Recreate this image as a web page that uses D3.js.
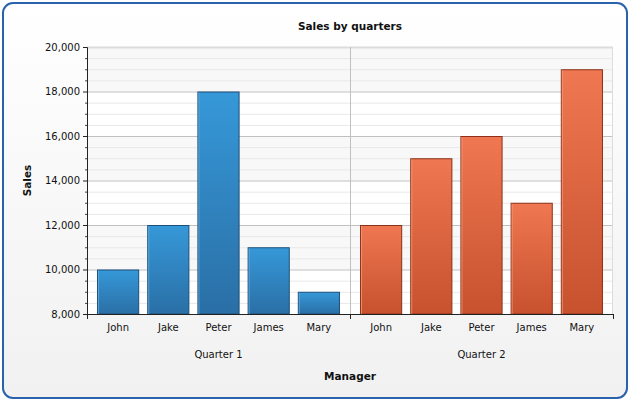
<!DOCTYPE html>
<html lang="en">
<head>
<meta charset="UTF-8">
<title>Sales by quarters</title>
<style>
    body { margin: 0; background: #fff; }
    svg text { font-family: "DejaVu Sans", Verdana, sans-serif; fill: #111; }
</style>
</head>
<body>
<div id="chart"></div>
<script src="https://d3js.org/d3.v7.min.js"></script>
<script>
    const quarters = ["Quarter 1", "Quarter 2"];
    const managers = ["John", "Jake", "Peter", "James", "Mary"];
    const q1Sales = [10000, 12000, 18000, 11000, 9000];
    const q2Sales = [12000, 15000, 16000, 13000, 19000];
    const yTicks = [8000, 10000, 12000, 14000, 16000, 18000, 20000];

    const salesByQuarter = [q1Sales, q2Sales];

    const W = 630, H = 401;
    const margin = {top: 47, right: 17, bottom: 87, left: 87};
    const width = W - margin.left - margin.right,
        height = H - margin.top - margin.bottom;

    const svg = d3.select("#chart").append("svg")
        .attr("width", W)
        .attr("height", H);

    const defs = svg.append("defs");
    const bgGrad = defs.append("linearGradient").attr("id", "bg")
        .attr("x1", 0).attr("y1", 0).attr("x2", 0).attr("y2", 1);
    bgGrad.append("stop").attr("offset", "0%").attr("stop-color", "#ffffff");
    bgGrad.append("stop").attr("offset", "100%").attr("stop-color", "#f1f1f1");

    function barGradient(id, top, bottom) {
        const g = defs.append("linearGradient").attr("id", id)
            .attr("x1", 0).attr("y1", 0).attr("x2", 0).attr("y2", 1);
        g.append("stop").attr("offset", "0%").attr("stop-color", top);
        g.append("stop").attr("offset", "100%").attr("stop-color", bottom);
    }
    barGradient("blueBar", "#3698d8", "#2a6fa6");
    barGradient("orangeBar", "#ef7852", "#c8512e");
    const fills = ["url(#blueBar)", "url(#orangeBar)"];
    const strokes = ["#1c4f78", "#8c3017"];
    const highlights = ["#6fb4e3", "#f5a285"];

    // outer frame
    svg.append("rect")
        .attr("x", 3).attr("y", 3)
        .attr("width", W - 6).attr("height", H - 6)
        .attr("rx", 10).attr("ry", 10)
        .attr("fill", "url(#bg)")
        .attr("stroke", "#2a62ad")
        .attr("stroke-width", 2);

    const g = svg.append("g")
        .attr("transform", "translate(" + margin.left + "," + margin.top + ")");

    const x0 = d3.scaleBand().domain(quarters).range([0, width]);
    const x1 = d3.scaleBand().domain(managers)
        .range([0, x0.bandwidth()])
        .paddingInner(0.16).paddingOuter(0.2);
    const y = d3.scaleLinear().domain([8000, 20000]).range([height, 0]);

    // plot background with alternating bands
    g.append("rect")
        .attr("width", width).attr("height", height)
        .attr("fill", "#ffffff");
    g.selectAll(".band")
        .data(yTicks.slice(0, -1).filter((d, i) => i % 2 === 1))
        .enter().append("rect")
        .attr("class", "band")
        .attr("x", 0)
        .attr("width", width)
        .attr("y", d => y(d + 2000))
        .attr("height", d => y(d) - y(d + 2000))
        .attr("fill", "#f8f8f8");

    // minor grid
    const minor = d3.range(8000, 20001, 500).filter(d => d % 2000 !== 0);
    g.selectAll(".minor")
        .data(minor)
        .enter().append("line")
        .attr("x1", 0).attr("x2", width)
        .attr("y1", d => y(d) + 0.5).attr("y2", d => y(d) + 0.5)
        .attr("stroke", "#e8e8e8");

    // major grid
    g.selectAll(".major")
        .data(yTicks.slice(1))
        .enter().append("line")
        .attr("x1", 0).attr("x2", width)
        .attr("y1", d => y(d) + 0.5).attr("y2", d => y(d) + 0.5)
        .attr("stroke", d => d === 20000 ? "#dcdcdc" : "#c0c0c0")
        .attr("stroke-width", d => d === 20000 ? 2 : 1);

    // vertical separators
    g.append("line")
        .attr("x1", x0("Quarter 2") + 0.5).attr("x2", x0("Quarter 2") + 0.5)
        .attr("y1", 0).attr("y2", height)
        .attr("stroke", "#c0c0c0");
    g.append("line")
        .attr("x1", width - 0.5).attr("x2", width - 0.5)
        .attr("y1", 0).attr("y2", height)
        .attr("stroke", "#dcdcdc");

    // bars
    quarters.forEach((q, qi) => {
        const grp = g.append("g")
            .attr("transform", "translate(" + x0(q) + ",0)");
        const rows = managers.map((m, i) => ({manager: m, value: salesByQuarter[qi][i]}));
        grp.selectAll(".bar")
            .data(rows)
            .enter().append("rect")
            .attr("class", "bar")
            .attr("x", d => x1(d.manager) + 0.5)
            .attr("y", d => y(d.value) + 0.5)
            .attr("width", x1.bandwidth() - 1)
            .attr("height", d => height - y(d.value) - 0.5)
            .attr("fill", fills[qi])
            .attr("stroke", strokes[qi])
            .attr("stroke-width", 1);
        grp.selectAll(".hl")
            .data(rows)
            .enter().append("line")
            .attr("x1", d => x1(d.manager) + 1.5)
            .attr("x2", d => x1(d.manager) + 1.5)
            .attr("y1", d => y(d.value) + 1)
            .attr("y2", height)
            .attr("stroke", highlights[qi])
            .attr("stroke-opacity", 0.7);
        grp.selectAll(".lbl")
            .data(managers)
            .enter().append("text")
            .attr("x", d => x1(d) + x1.bandwidth() / 2)
            .attr("y", height + 17)
            .attr("text-anchor", "middle")
            .style("font-size", "10px")
            .text(d => d);
        grp.append("text")
            .attr("x", x0.bandwidth() / 2)
            .attr("y", height + 44)
            .attr("text-anchor", "middle")
            .style("font-size", "10px")
            .text(q);
    });

    // y axis
    const yAxis = g.append("g")
        .call(d3.axisLeft(y).tickValues(yTicks).tickSize(4).tickPadding(3)
            .tickFormat(d3.format(",")));
    yAxis.select(".domain").attr("stroke", "#222");
    yAxis.selectAll(".tick line").attr("stroke", "#222");
    yAxis.selectAll("text").style("font-size", "10px")
        .style("font-family", "DejaVu Sans, sans-serif").attr("fill", "#111");
    g.selectAll(".ytickminor")
        .data(minor)
        .enter().append("line")
        .attr("x1", -2).attr("x2", 0)
        .attr("y1", d => y(d) + 0.5).attr("y2", d => y(d) + 0.5)
        .attr("stroke", "#444");

    // x axis
    g.append("line")
        .attr("x1", 0).attr("x2", width)
        .attr("y1", height + 0.5).attr("y2", height + 0.5)
        .attr("stroke", "#222");
    g.selectAll(".xtick")
        .data([0, x0("Quarter 2"), width])
        .enter().append("line")
        .attr("x1", d => d + 0.5).attr("x2", d => d + 0.5)
        .attr("y1", height).attr("y2", height + 5)
        .attr("stroke", "#222");

    // titles
    svg.append("text")
        .attr("x", margin.left + width / 2)
        .attr("y", 30)
        .attr("text-anchor", "middle")
        .style("font-size", "10.5px")
        .style("font-weight", "bold")
        .text("Sales by quarters");
    svg.append("text")
        .attr("x", margin.left + width / 2)
        .attr("y", 380)
        .attr("text-anchor", "middle")
        .style("font-size", "10.5px")
        .style("font-weight", "bold")
        .text("Manager");
    svg.append("text")
        .attr("transform", "translate(31," + (margin.top + height / 2) + ") rotate(-90)")
        .attr("text-anchor", "middle")
        .style("font-size", "10.5px")
        .style("font-weight", "bold")
        .text("Sales");
</script>
</body>
</html>
